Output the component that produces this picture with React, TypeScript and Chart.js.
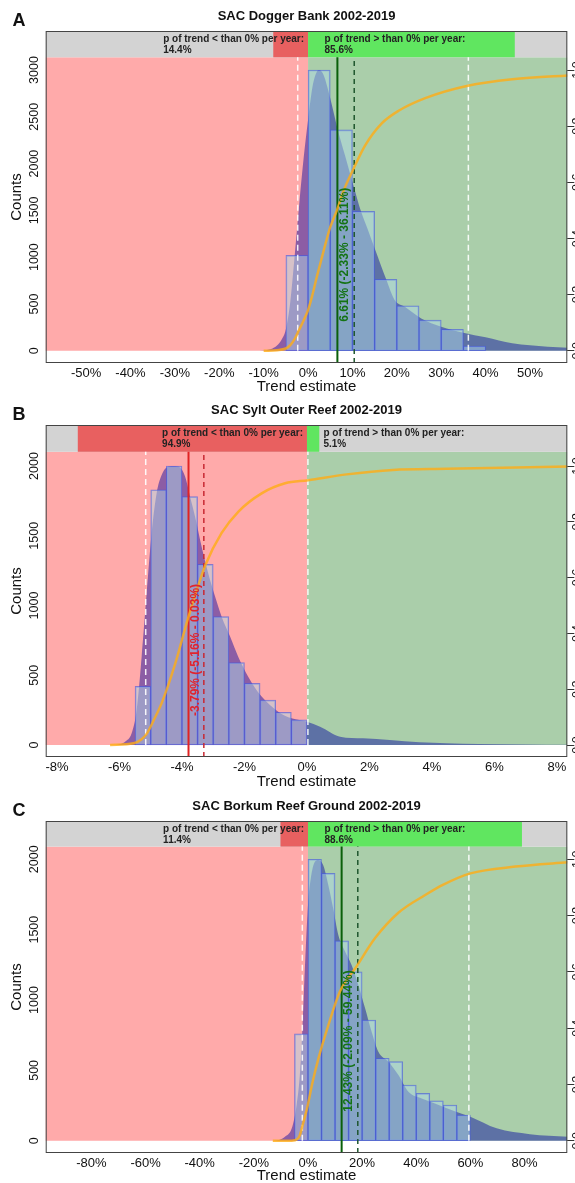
import React, { useEffect, useRef } from 'react';
import { Chart, registerables } from 'chart.js';

Chart.register(...registerables);

const FONT = '"Liberation Sans", Arial, Helvetica, sans-serif';
Chart.defaults.font.family = FONT;
Chart.defaults.color = '#111';

// ---------------- Panel A : SAC Dogger Bank ----------------
const A_TITLE = 'SAC Dogger Bank 2002-2019';
const A_X_TICKS = [-50, -40, -30, -20, -10, 0, 10, 20, 30, 40, 50];
const A_Y_TICKS = [0, 500, 1000, 1500, 2000, 2500, 3000];
const A_BIN_MIDS = [-2.5, 2.5, 7.5, 12.5, 17.5, 22.5, 27.5, 32.5, 37.5];
const A_BIN_COUNTS = [1020, 3000, 2360, 1490, 763, 481, 328, 228, 50];
const A_DENS_X = [-12, -10, -9, -8, -7, -6, -5, -4, -3, -2, -1, 0, 1, 2, 2.5, 3.5, 5, 6.7, 8.3, 10.3, 11.9, 13.5, 15, 17.6, 19.5, 21.8, 25.5, 30, 35, 40, 46, 54, 60];
const A_DENS_Y = [0, 3, 10, 25, 55, 115, 230, 524, 1023, 1560, 2056, 2466, 2820, 2985, 3000, 2947, 2697, 2360, 2091, 1753, 1493, 1290, 1094, 763, 542, 470, 345, 257, 193, 143, 79, 43, 30];
const A_CDF_X = [-10, -7, -5, -4, -3, -2, -1, 0, 1, 2, 3, 4, 5, 6.5, 8, 10.3, 12.8, 16.6, 20.4, 26.4, 36, 46, 60];
const A_CDF_Y = [0, 0.002, 0.008, 0.02, 0.042, 0.075, 0.108, 0.145, 0.2, 0.265, 0.325, 0.385, 0.44, 0.5, 0.57, 0.65, 0.73, 0.81, 0.855, 0.9, 0.944, 0.967, 0.982];
const A_MEDIAN = 6.61;
const A_CI = [-2.33, 36.11];
const A_MEAN = 10.4;
const A_P_BELOW = 14.4;
const A_P_ABOVE = 85.6;

// ---------------- Panel B : SAC Sylt Outer Reef ----------------
const B_TITLE = 'SAC Sylt Outer Reef 2002-2019';
const B_X_TICKS = [-8, -6, -4, -2, 0, 2, 4, 6, 8];
const B_Y_TICKS = [0, 500, 1000, 1500, 2000];
const B_BIN_MIDS = [-5.25, -4.75, -4.25, -3.75, -3.25, -2.75, -2.25, -1.75, -1.25, -0.75, -0.25];
const B_BIN_COUNTS = [420, 1830, 2000, 1780, 1295, 920, 590, 442, 322, 235, 180];
const B_DENS_X = [-6.5, -6.25, -6.0, -5.82, -5.61, -5.45, -5.29, -5.13, -4.97, -4.81, -4.65, -4.49, -4.28, -4.06, -3.9, -3.74, -3.58, -3.37, -3.16, -2.94, -2.73, -2.46, -2.2, -1.88, -1.45, -0.92, -0.49, 0, 0.42, 1.06, 1.8, 2.65, 3.6, 4.47, 5.5, 7, 8.4];
const B_DENS_Y = [0, 0, 6, 24, 84, 251, 633, 1087, 1518, 1805, 1936, 1990, 2000, 1990, 1924, 1780, 1637, 1422, 1231, 1064, 920, 777, 633, 490, 347, 239, 191, 167, 131, 60, 48, 36, 19, 12, 7, 3, 1];
const B_CDF_X = [-6.3, -5.55, -5.3, -5.13, -4.9, -4.65, -4.22, -3.79, -3.25, -2.73, -2.2, -1.45, -0.7, 0.04, 1.27, 2.75, 4.47, 8.4];
const B_CDF_Y = [0, 0.006, 0.02, 0.04, 0.09, 0.15, 0.29, 0.46, 0.645, 0.76, 0.836, 0.902, 0.938, 0.949, 0.97, 0.986, 0.99, 0.998];
const B_MEDIAN = -3.79;
const B_CI = [-5.16, 0.03];
const B_MEAN = -3.3;
const B_P_BELOW = 94.9;
const B_P_ABOVE = 5.1;

// ---------------- Panel C : SAC Borkum Reef Ground ----------------
const C_TITLE = 'SAC Borkum Reef Ground 2002-2019';
const C_X_TICKS = [-80, -60, -40, -20, 0, 20, 40, 60, 80];
const C_Y_TICKS = [0, 500, 1000, 1500, 2000];
const C_BIN_MIDS = [-2.5, 2.5, 7.5, 12.5, 17.5, 22.5, 27.5, 32.5, 37.5, 42.5, 47.5, 52.5, 57.5];
const C_BIN_COUNTS = [760, 2000, 1900, 1420, 1200, 858, 586, 562, 396, 337, 284, 254, 183];
const C_DENS_X = [-14, -12.8, -10, -8.5, -6, -4.2, -3, -2.3, -1.1, 0, 1, 2.6, 3.8, 5.6, 7.5, 9.3, 11.2, 13.7, 16.1, 18.6, 21.1, 23.5, 26, 29.7, 33.4, 37.1, 42, 46.9, 54.7, 60, 69.7, 82, 97];
const C_DENS_Y = [0, 0, 10, 28, 88, 254, 470, 700, 1249, 1675, 1860, 1984, 1995, 1960, 1818, 1652, 1462, 1344, 1249, 1107, 941, 775, 633, 562, 467, 348, 301, 265, 206, 171, 88, 47, 28];
const C_CDF_X = [-13, -6, -4, -3, -2.3, -1, 0, 1.5, 3.8, 7.5, 11.8, 18, 24.8, 33.4, 43.3, 50, 60, 76.6, 97];
const C_CDF_Y = [0, 0, 0.005, 0.02, 0.044, 0.09, 0.13, 0.2, 0.29, 0.41, 0.53, 0.62, 0.72, 0.81, 0.873, 0.91, 0.95, 0.974, 0.99];
const C_MEDIAN = 12.43;
const C_CI = [-2.09, 59.44];
const C_MEAN = 18.4;
const C_P_BELOW = 11.4;
const C_P_ABOVE = 88.6;

const CDF_TICKS = [0, 0.2, 0.4, 0.6, 0.8, 1.0];

// ---------------- styles ----------------
const PINK = 'rgb(255,170,170)';
const GREEN_BG = 'rgb(170,206,170)';
const HEADER_GREY = 'rgb(211,211,211)';
const HEADER_RED = 'rgb(232,96,96)';
const HEADER_GREEN = 'rgb(96,230,96)';
const DENS_FILL = 'rgba(0,0,160,0.45)';
const BAR_FILL = 'rgba(173,216,230,0.5)';
const BAR_EDGE = 'rgba(70,90,225,0.65)';
const CDF_COLOR = 'rgba(255,172,20,0.8)';
const WHITE_DASH = 'rgba(255,255,255,0.9)';
const P_BAR_SPAN = 0.463; // fraction of plot width covered by 100 % probability in header

type PanelCfg = {
  letter: string; title: string; top: number; height: number;
  xMin: number; xMax: number; yMin: number; yMax: number; headerFrom: number; cdfTop: number;
  xTicks: number[]; yTicks: number[];
  binMids: number[]; counts: number[];
  densX: number[]; densY: number[]; cdfX: number[]; cdfY: number[];
  median: number; ci: number[]; mean: number; pBelow: number; pAbove: number;
  lineColor: string; dashColor: string; textColor: string;
};

const PANELS: PanelCfg[] = [
  {
    letter: 'A', title: A_TITLE, top: 0, height: 394,
    xMin: -59.1, xMax: 58.4, yMin: -131, yMax: 3417, headerFrom: 3136, cdfTop: 3000,
    xTicks: A_X_TICKS, yTicks: A_Y_TICKS, binMids: A_BIN_MIDS, counts: A_BIN_COUNTS,
    densX: A_DENS_X, densY: A_DENS_Y, cdfX: A_CDF_X, cdfY: A_CDF_Y,
    median: A_MEDIAN, ci: A_CI, mean: A_MEAN, pBelow: A_P_BELOW, pAbove: A_P_ABOVE,
    lineColor: 'rgb(10,95,10)', dashColor: 'rgb(30,85,45)', textColor: 'rgb(20,115,20)',
  },
  {
    letter: 'B', title: B_TITLE, top: 394, height: 395,
    xMin: -8.36, xMax: 8.33, yMin: -86, yMax: 2294, headerFrom: 2102, cdfTop: 2000,
    xTicks: B_X_TICKS, yTicks: B_Y_TICKS, binMids: B_BIN_MIDS, counts: B_BIN_COUNTS,
    densX: B_DENS_X, densY: B_DENS_Y, cdfX: B_CDF_X, cdfY: B_CDF_Y,
    median: B_MEDIAN, ci: B_CI, mean: B_MEAN, pBelow: B_P_BELOW, pAbove: B_P_ABOVE,
    lineColor: 'rgb(225,35,35)', dashColor: 'rgb(200,40,50)', textColor: 'rgb(225,35,45)',
  },
  {
    letter: 'C', title: C_TITLE, top: 790, height: 393,
    xMin: -96.9, xMax: 95.8, yMin: -87, yMax: 2272, headerFrom: 2090, cdfTop: 2000,
    xTicks: C_X_TICKS, yTicks: C_Y_TICKS, binMids: C_BIN_MIDS, counts: C_BIN_COUNTS,
    densX: C_DENS_X, densY: C_DENS_Y, cdfX: C_CDF_X, cdfY: C_CDF_Y,
    median: C_MEDIAN, ci: C_CI, mean: C_MEAN, pBelow: C_P_BELOW, pAbove: C_P_ABOVE,
    lineColor: 'rgb(10,95,10)', dashColor: 'rgb(30,85,45)', textColor: 'rgb(20,115,20)',
  },
];

const zip = (xs: number[], ys: number[]) => xs.map((x, i) => ({ x, y: ys[i] }));
const fmt = (v: number) => v.toFixed(2) + '%';

function decorPlugin(p: PanelCfg) {
  return {
    id: 'decor' + p.letter,
    beforeDatasetsDraw(chart: any) {
      const { ctx, chartArea: a, scales } = chart;
      const x0 = scales.x.getPixelForValue(0);
      const yb = scales.y.getPixelForValue(0);
      const yh = scales.y.getPixelForValue(p.headerFrom);
      ctx.save();
      ctx.fillStyle = PINK;
      ctx.fillRect(a.left, yh, x0 - a.left, yb - yh);
      ctx.fillStyle = GREEN_BG;
      ctx.fillRect(x0, yh, a.right - x0, yb - yh);
      ctx.fillStyle = HEADER_GREY;
      ctx.fillRect(a.left, a.top, a.width, yh - a.top);
      const span = (P_BAR_SPAN * a.width) / 100;
      ctx.fillStyle = HEADER_RED;
      ctx.fillRect(x0 - p.pBelow * span, a.top, p.pBelow * span, yh - a.top);
      ctx.fillStyle = HEADER_GREEN;
      ctx.fillRect(x0, a.top, p.pAbove * span, yh - a.top);
      ctx.restore();
    },
    afterDatasetsDraw(chart: any) {
      const { ctx, chartArea: a, scales } = chart;
      const x0 = scales.x.getPixelForValue(0);
      ctx.save();
      // header texts
      ctx.font = `bold 10px ${FONT}`;
      ctx.fillStyle = '#222';
      ctx.textBaseline = 'middle';
      ctx.textAlign = 'left';
      const l1 = 'p of trend < than 0% per year:';
      const w1 = ctx.measureText(l1).width;
      const lx = x0 - 4 - w1;
      ctx.fillText(l1, lx, a.top + 8);
      ctx.fillText(p.pBelow.toFixed(1) + '%', lx, a.top + 19.5);
      const rx = x0 + 16.5;
      ctx.fillText('p of trend > than 0% per year:', rx, a.top + 8);
      ctx.fillText(p.pAbove.toFixed(1) + '%', rx, a.top + 19.5);
      // rotated estimate label
      const label = `${fmt(p.median)} (${fmt(p.ci[0])} - ${fmt(p.ci[1])})`;
      ctx.save();
      ctx.translate(scales.x.getPixelForValue(p.median) + 7, scales.y.getPixelForValue(0) - 29);
      ctx.rotate(-Math.PI / 2);
      ctx.font = `bold 12px ${FONT}`;
      ctx.fillStyle = p.textColor;
      ctx.textAlign = 'left';
      ctx.textBaseline = 'middle';
      ctx.fillText(label, 0, 0);
      ctx.restore();
      // frame
      ctx.strokeStyle = '#444';
      ctx.lineWidth = 1;
      ctx.strokeRect(a.left + 0.5, a.top + 0.5, a.width - 1, a.height - 1);
      ctx.restore();
    },
    afterDraw(chart: any) {
      const { ctx } = chart;
      ctx.save();
      ctx.font = `bold 18px ${FONT}`;
      ctx.fillStyle = '#111';
      ctx.textAlign = 'center';
      ctx.textBaseline = 'middle';
      ctx.fillText(p.letter, 19, 21);
      ctx.restore();
    },
  };
}

function buildConfig(p: PanelCfg): any {
  const vline = (x: number, y0: number, y1: number) => [{ x, y: y0 }, { x, y: y1 }];
  const datasets: any[] = [
    {
      type: 'line', label: 'CDF', data: zip(p.cdfX, p.cdfY), yAxisID: 'y2',
      borderColor: CDF_COLOR, borderWidth: 2.5, pointRadius: 0, fill: false,
      cubicInterpolationMode: 'monotone', order: 0,
    },
    {
      type: 'line', label: 'median', data: vline(p.median, p.yMin, p.headerFrom),
      borderColor: p.lineColor, borderWidth: 2, pointRadius: 0, fill: false, order: 1,
    },
    {
      type: 'line', label: 'mean', data: vline(p.mean, p.yMin, p.headerFrom),
      borderColor: p.dashColor, borderWidth: 1.5, borderDash: [5, 4], pointRadius: 0, fill: false, order: 1,
    },
    {
      type: 'line', label: 'ci low', data: vline(p.ci[0], 0, p.headerFrom),
      borderColor: WHITE_DASH, borderWidth: 1.5, borderDash: [6, 4], pointRadius: 0, fill: false, order: 2,
    },
    {
      type: 'line', label: 'ci high', data: vline(p.ci[1], 0, p.headerFrom),
      borderColor: WHITE_DASH, borderWidth: 1.5, borderDash: [6, 4], pointRadius: 0, fill: false, order: 2,
    },
    {
      type: 'bar', label: 'histogram', data: zip(p.binMids, p.counts),
      backgroundColor: BAR_FILL, borderColor: BAR_EDGE, borderWidth: 1, borderSkipped: false,
      barPercentage: 1, categoryPercentage: 1, order: 3,
    },
    {
      type: 'line', label: 'density', data: zip(p.densX, p.densY),
      backgroundColor: DENS_FILL, borderColor: 'rgba(0,0,0,0)', borderWidth: 1, pointRadius: 0,
      fill: 'origin', cubicInterpolationMode: 'monotone', order: 4,
    },
  ];
  const xAxisHeight = p.height - 363;
  return {
    type: 'line',
    data: { datasets },
    options: {
      responsive: false,
      animation: false,
      events: [],
      layout: { padding: 0 },
      plugins: {
        legend: { display: false },
        tooltip: { enabled: false },
        title: {
          display: true, text: p.title, fullSize: false, color: '#111',
          font: { size: 13, weight: 'bold', lineHeight: 1.2 },
          padding: { top: 8.2, bottom: 7.2 },
        },
      },
      scales: {
        x: {
          type: 'linear', min: p.xMin, max: p.xMax, offset: false,
          grid: { display: false, drawTicks: false }, border: { display: false },
          ticks: { padding: 3, font: { size: 13 }, color: '#111', maxRotation: 0, autoSkip: false, callback: (v: number) => v + '%' },
          afterBuildTicks: (s: any) => { s.ticks = p.xTicks.map((v) => ({ value: v })); },
          afterFit: (s: any) => { s.height = xAxisHeight; },
          title: { display: true, text: 'Trend estimate', color: '#111', font: { size: 15, lineHeight: 1 }, padding: { top: 0, bottom: 0 } },
        },
        y: {
          type: 'linear', position: 'left', min: p.yMin, max: p.yMax,
          grid: { display: false, drawTicks: false }, border: { display: false },
          ticks: { minRotation: 90, maxRotation: 90, crossAlign: 'center', padding: -3, font: { size: 12.5 }, color: '#111', callback: (v: number) => String(v) },
          afterBuildTicks: (s: any) => { s.ticks = p.yTicks.map((v) => ({ value: v })); },
          afterFit: (s: any) => { s.width = 45.7; },
          title: { display: true, text: 'Counts', color: '#111', font: { size: 15, lineHeight: 1.2 }, padding: { top: 8, bottom: 0 } },
        },
        y2: {
          type: 'linear', position: 'right', min: p.yMin / p.cdfTop, max: p.yMax / p.cdfTop,
          grid: { display: true, drawOnChartArea: false, drawTicks: true, tickLength: 7, color: '#333' },
          border: { display: false },
          ticks: { minRotation: 90, maxRotation: 90, crossAlign: 'center', padding: -5, font: { size: 12.5 }, color: '#111', callback: (v: number) => v.toFixed(1) },
          afterBuildTicks: (s: any) => { s.ticks = CDF_TICKS.map((v) => ({ value: v })); },
          afterFit: (s: any) => { s.width = 575 - 567.3; },
        },
      },
    },
    plugins: [decorPlugin(p)],
  };
}

function Panel({ cfg }: { cfg: PanelCfg }) {
  const ref = useRef<HTMLCanvasElement>(null);
  useEffect(() => {
    if (!ref.current) return;
    const chart = new Chart(ref.current, buildConfig(cfg));
    return () => chart.destroy();
  }, [cfg]);
  return (
    <div style={{ position: 'absolute', left: 0, top: cfg.top, width: 575, height: cfg.height }}>
      <canvas ref={ref} width={575} height={cfg.height} style={{ display: 'block', width: 575, height: cfg.height }} />
    </div>
  );
}

export default function App() {
  return (
    <div style={{ position: 'absolute', left: 0, top: 0, width: 575, height: 1183, background: '#fff', overflow: 'hidden' }}>
      {PANELS.map((p) => (
        <Panel key={p.letter} cfg={p} />
      ))}
    </div>
  );
}
